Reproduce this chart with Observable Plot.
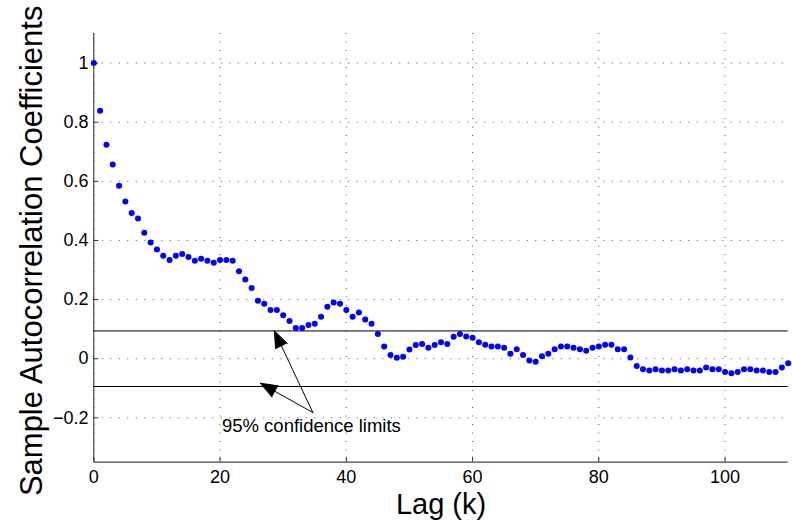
<!DOCTYPE html>
<html>
<head>
<meta charset="utf-8">
<script src="https://cdn.jsdelivr.net/npm/d3@7"></script>
<script src="https://cdn.jsdelivr.net/npm/@observablehq/plot@0.6"></script>
<style>
  html, body { margin: 0; padding: 0; background: #fff; }
  #chart { width: 792px; height: 525px; }
</style>
</head>
<body>
<div id="chart"></div>
<script>
// Sample autocorrelation of the series, lags 0..110
const lags = [
  0, 1, 2, 3, 4, 5, 6, 7, 8, 9, 10, 11, 12, 13, 14, 15, 16, 17, 18, 19,
  20, 21, 22, 23, 24, 25, 26, 27, 28, 29, 30, 31, 32, 33, 34, 35, 36, 37, 38, 39,
  40, 41, 42, 43, 44, 45, 46, 47, 48, 49, 50, 51, 52, 53, 54, 55, 56, 57, 58, 59,
  60, 61, 62, 63, 64, 65, 66, 67, 68, 69, 70, 71, 72, 73, 74, 75, 76, 77, 78, 79,
  80, 81, 82, 83, 84, 85, 86, 87, 88, 89, 90, 91, 92, 93, 94, 95, 96, 97, 98, 99,
  100, 101, 102, 103, 104, 105, 106, 107, 108, 109, 110
];
const acf = [
  1.000, 0.839, 0.724, 0.657, 0.585, 0.532, 0.493, 0.474, 0.426, 0.393,
  0.369, 0.348, 0.334, 0.348, 0.354, 0.344, 0.331, 0.338, 0.331, 0.325,
  0.334, 0.334, 0.331, 0.296, 0.268, 0.239, 0.196, 0.186, 0.165, 0.165,
  0.147, 0.128, 0.104, 0.104, 0.114, 0.118, 0.142, 0.176, 0.190, 0.186,
  0.165, 0.142, 0.156, 0.133, 0.118, 0.084, 0.041, 0.013, 0.003, 0.007,
  0.031, 0.046, 0.050, 0.037, 0.046, 0.056, 0.050, 0.074, 0.084, 0.075,
  0.071, 0.056, 0.047, 0.041, 0.041, 0.037, 0.017, 0.032, 0.013, -0.006,
  -0.010, 0.008, 0.017, 0.032, 0.041, 0.041, 0.037, 0.032, 0.027, 0.037,
  0.041, 0.047, 0.047, 0.032, 0.032, 0.004, -0.025, -0.036, -0.040, -0.036,
  -0.040, -0.040, -0.036, -0.040, -0.036, -0.040, -0.040, -0.030, -0.036, -0.036,
  -0.045, -0.049, -0.045, -0.036, -0.036, -0.040, -0.040, -0.045, -0.045, -0.030,
  -0.015
];

// 95% confidence limits (±)
const confLimit = 0.094;
const confLevels = [confLimit, -confLimit];

// Axis domains and ticks
const xDomain = [0, 110];
const yDomain = [-0.35, 1.1];
const xTicks = [0, 20, 40, 60, 80, 100];
const yTicks = [-0.2, 0, 0.2, 0.4, 0.6, 0.8, 1];

// Annotation: label and arrows (tail at the label, tips on the limit lines)
const noteText = ["95% confidence limits"];
const noteX = [20.3];
const noteY = [-0.229];
const arrowTailX = [34.7, 34.7];
const arrowTailY = [-0.182, -0.182];
const arrowTipX = [28.6, 26.4];
const arrowTipY = [confLimit, -0.083];

const points = lags.map((k, i) => ({lag: k, r: acf[i]}));
const arrows = arrowTipX.map((x, i) => ({x1: arrowTailX[i], y1: arrowTailY[i], x2: x, y2: arrowTipY[i]}));
const notes = noteText.map((t, i) => ({text: t, x: noteX[i], y: noteY[i]}));

const font = "'Liberation Sans', Arial, Helvetica, sans-serif";
const dotted = {stroke: "#555", strokeOpacity: 1, strokeWidth: 1, strokeDasharray: "1,7.5"};
// plain tick labels: 1, 0, 0.2, −0.2
const tickFmt = (d) => String(+d.toFixed(2)).replace("-", "\u2212");

const chart = Plot.plot({
  width: 792,
  height: 525,
  marginLeft: 93.3,
  marginRight: 4.3,
  marginTop: 33,
  marginBottom: 63.3,
  style: {fontFamily: font, fontSize: "18px", color: "#000", background: "#fff", overflow: "visible"},
  x: {domain: xDomain},
  y: {domain: yDomain},
  marks: [
    Plot.gridX({ticks: xTicks, ...dotted}),
    Plot.gridY({ticks: yTicks, ...dotted}),
    Plot.ruleY(confLevels, {stroke: "#000", strokeWidth: 1}),
    Plot.ruleX([xDomain[0]], {stroke: "#222", strokeWidth: 1}),
    Plot.ruleY([yDomain[0]], {stroke: "#444", strokeWidth: 1.2}),
    Plot.axisX({ticks: xTicks, tickFormat: tickFmt, tickSize: -5, tickPadding: 13.3, label: null, fontSize: 18, stroke: "#333"}),
    Plot.axisY({ticks: yTicks, tickFormat: tickFmt, tickSize: -5, tickPadding: 10.3, label: null, fontSize: 18, stroke: "#333"}),
    Plot.dot(points, {x: "lag", y: "r", r: 3, fill: "#0000ff", stroke: null}),
    Plot.arrow(arrows, {x1: "x1", y1: "y1", x2: "x2", y2: "y2", stroke: "#000", fill: "#000",
      strokeWidth: 1, headAngle: 42, headLength: 27}),
    Plot.text(notes, {x: "x", y: "y", text: "text", textAnchor: "start", fontSize: 18.5, fill: "#000"}),
    Plot.text(["Lag (k)"], {frameAnchor: "bottom", lineAnchor: "middle", textAnchor: "middle",
      dy: 43, fontSize: 29, fill: "#000"}),
    Plot.text(["Sample Autocorrelation Coefficients"], {frameAnchor: "left", lineAnchor: "middle",
      textAnchor: "middle", dx: -62, dy: 3, rotate: -90, fontSize: 31, fill: "#000"})
  ]
});

document.getElementById("chart").appendChild(chart);
</script>
</body>
</html>
